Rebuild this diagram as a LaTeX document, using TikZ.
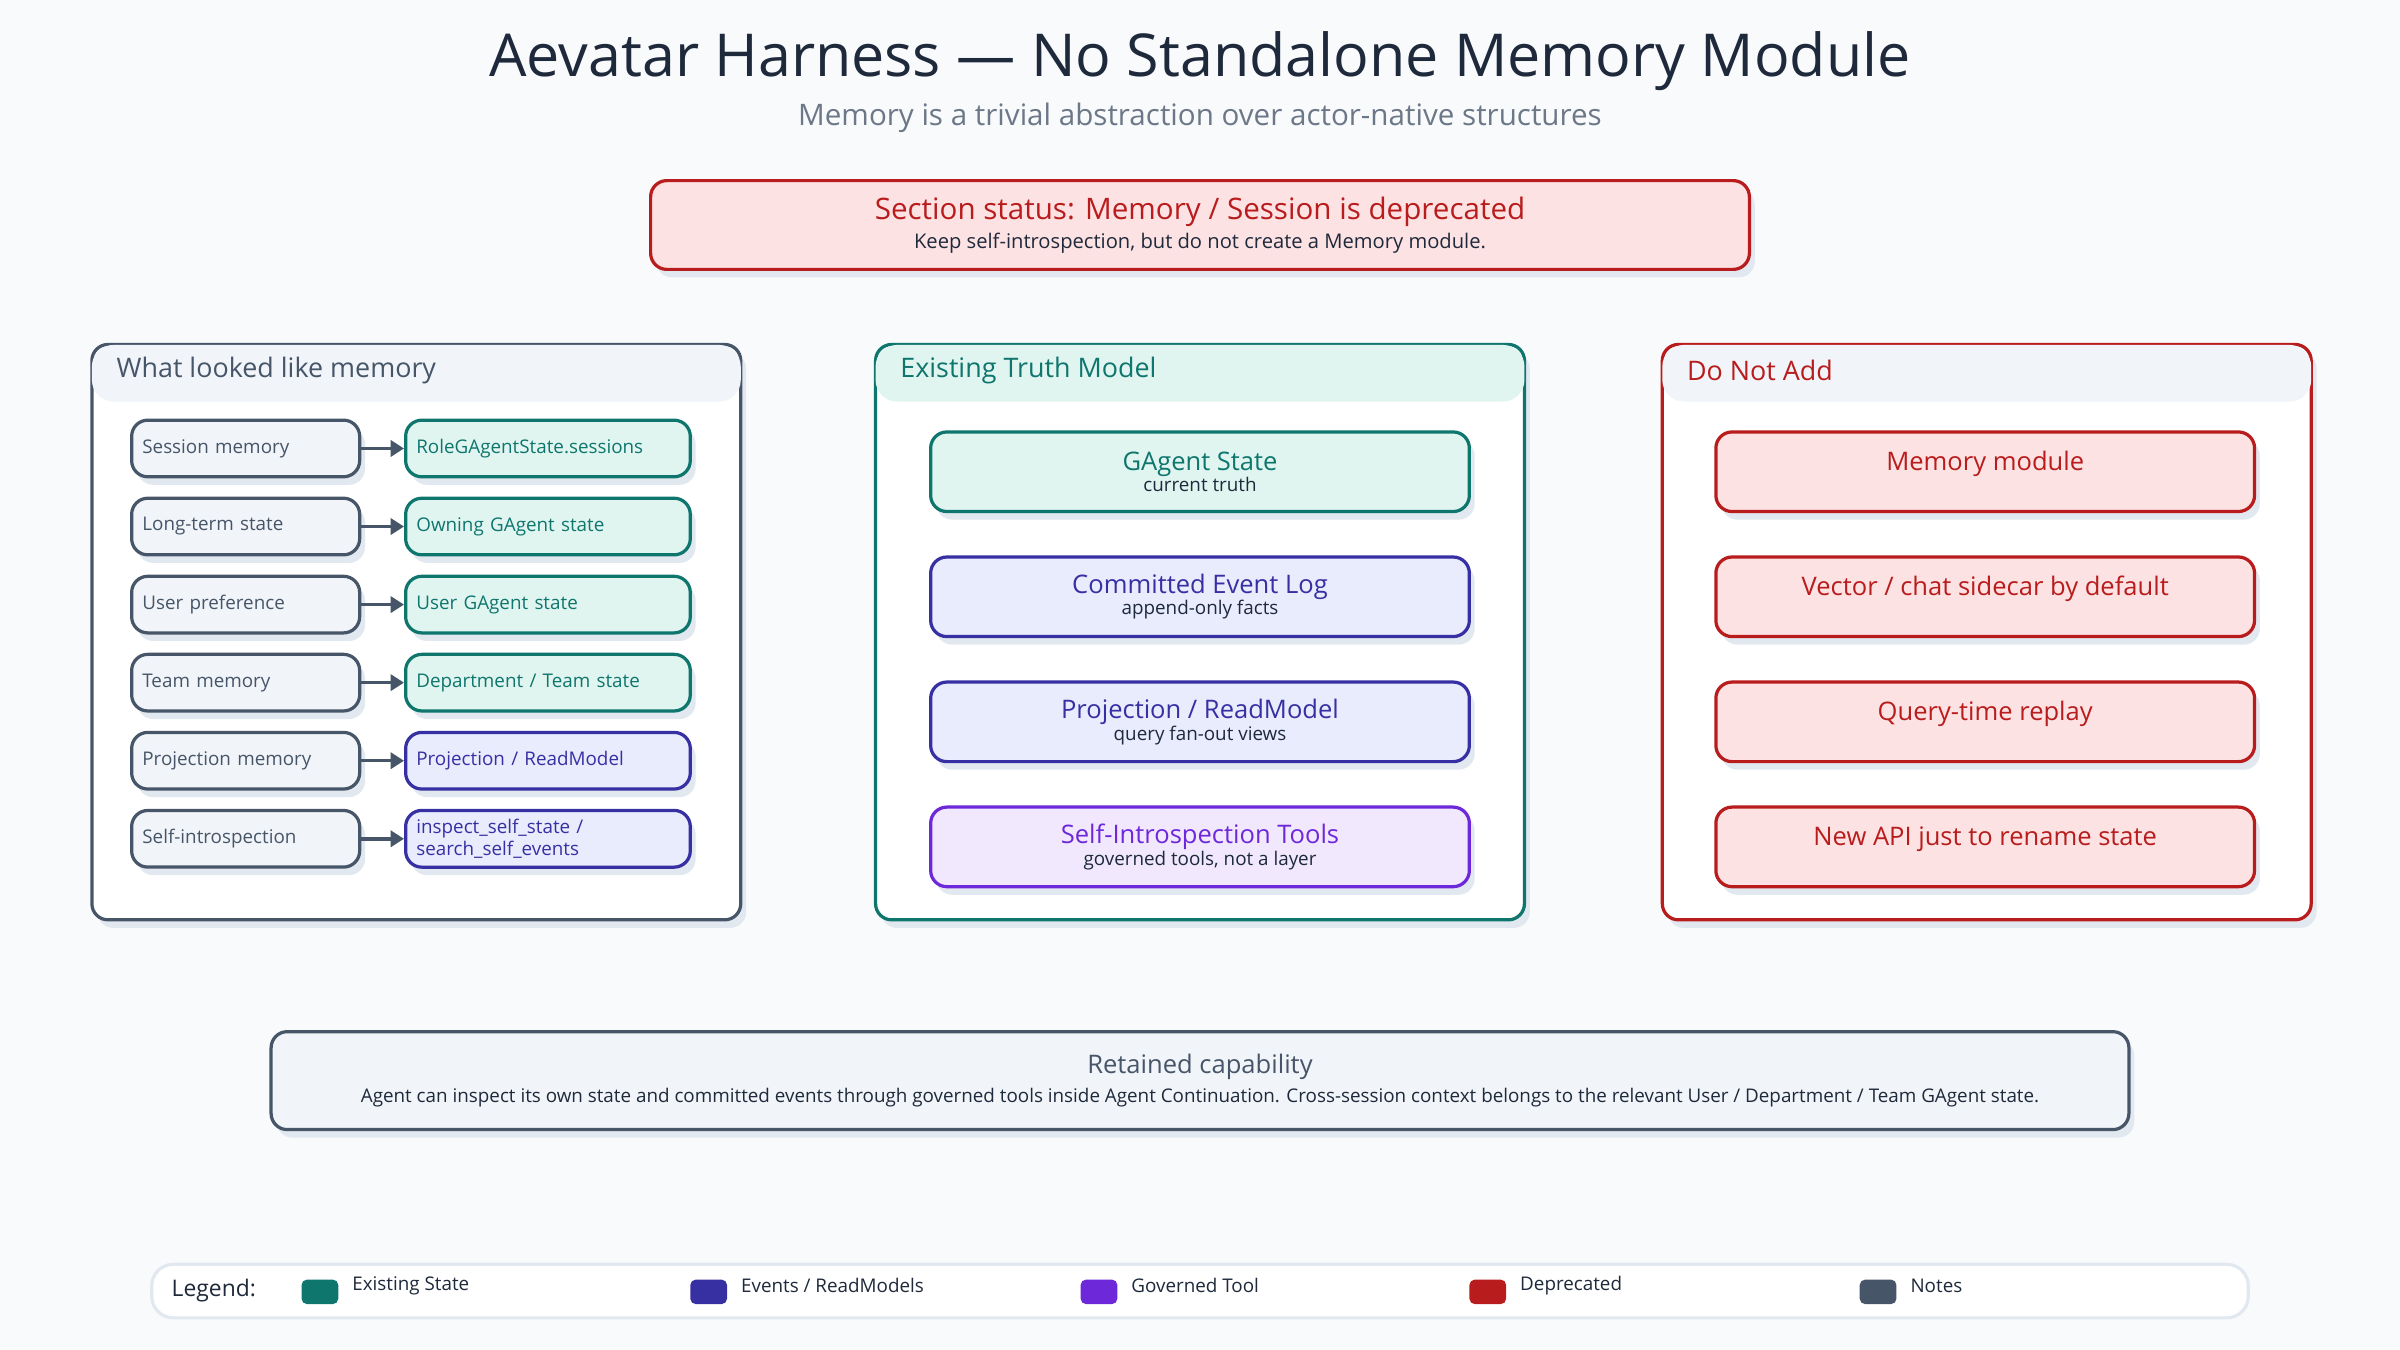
\documentclass[tikz,border=0pt]{standalone}
\usepackage{fontspec}
\setmainfont{Open Sans}
\usetikzlibrary{shadows,arrows.meta}
\definecolor{bg}{HTML}{F8FAFC}
\definecolor{slate}{HTML}{475569}
\definecolor{slatefill}{HTML}{F1F5F9}
\definecolor{teal}{HTML}{0F766E}
\definecolor{tealfill}{HTML}{E0F5F0}
\definecolor{indigo}{HTML}{3730A3}
\definecolor{indigofill}{HTML}{E8ECFD}
\definecolor{violet}{HTML}{6D28D9}
\definecolor{violetfill}{HTML}{F1E8FD}
\definecolor{crimson}{HTML}{B91C1C}
\definecolor{crimsonfill}{HTML}{FDE2E3}
\definecolor{ink}{HTML}{1E293B}
\definecolor{shade}{HTML}{E2E8F0}
\tikzset{
  box/.style={draw, rounded corners=6pt, line width=1.2pt,
    drop shadow={shadow xshift=2pt, shadow yshift=-3pt, fill=shade, opacity=1}},
  panel/.style={box, fill=white, minimum width=8.48cm, minimum height=7.52cm},
  head/.style={rounded corners=8pt, fill=#1, minimum width=8.48cm, minimum height=0.74cm},
  src/.style={box, draw=slate, fill=slatefill, text=slate, minimum width=2.98cm,
    minimum height=0.74cm, text width=2.7cm, align=left, font=\fontsize{7}{8}\selectfont},
  dst/.style={box, draw=#1, fill=#1fill, text=#1, minimum width=3.72cm,
    minimum height=0.74cm, text width=3.44cm, align=left, font=\fontsize{7}{8}\selectfont},
  truth/.style={box, draw=#1, fill=#1fill, text=#1, minimum width=7.04cm,
    minimum height=1.04cm, align=center, font=\fontsize{9.5}{10}\selectfont},
  swatch/.style={fill=#1, rounded corners=2pt, minimum width=0.48cm, minimum height=0.32cm, inner sep=0pt},
  link/.style={-{Triangle[length=5pt,width=6pt]}, line width=1.3pt, draw=slate}
}
\begin{document}
\begin{tikzpicture}[x=0.02cm, y=-0.02cm]
\fill[bg] (0,0) rectangle (1568,882);
\useasboundingbox (0,0) rectangle (1568,882);
% title
\node[font=\fontsize{22}{24}\selectfont, text=ink] (title) at (784,40) {Aevatar Harness — No Standalone Memory Module};
\node[font=\fontsize{11}{12}\selectfont, text=slate!80] (subtitle) at (784,77) {Memory is a trivial abstraction over actor-native structures};
\node[box, draw=crimson, fill=crimsonfill, minimum width=14.36cm, minimum height=1.16cm, align=center]
  (status) at (784,147) {\textcolor{crimson}{\fontsize{11}{12}\selectfont Section status: Memory / Session is deprecated}\\[-1pt]
  \textcolor{ink}{\fontsize{7.5}{9}\selectfont Keep self-introspection, but do not create a Memory module.}};
% panels
\node[panel, draw=slate] (leftp) at (272,413) {};
\node[head=slatefill, anchor=north] (lefth) at (272,225) {};
\node[anchor=west, text=slate, font=\fontsize{10}{12}\selectfont] at (70,242) {What looked like memory};
\node[panel, draw=teal] (midp) at (784,413) {};
\node[head=tealfill, anchor=north] (midh) at (784,225) {};
\node[anchor=west, text=teal, font=\fontsize{10}{12}\selectfont] at (582,242) {Existing Truth Model};
\node[panel, draw=crimson] (rightp) at (1298,413) {};
\node[head=slatefill, anchor=north] (righth) at (1298,225) {};
\node[anchor=west, text=crimson, font=\fontsize{10}{12}\selectfont] at (1096,242) {Do Not Add};
% mapping rows
\foreach \i/\a/\b/\c in {1/Session memory/RoleGAgentState.sessions/teal,
  2/Long-term state/Owning GAgent state/teal,
  3/User preference/User GAgent state/teal,
  4/Team memory/{Department / Team state}/teal,
  5/Projection memory/{Projection / ReadModel}/indigo,
  6/Self-introspection/{inspect\_self\_state /\\search\_self\_events}/indigo}{
  \node[src] (s\i) at (160.5,242+51*\i) {\a};
  \node[dst=\c] (d\i) at (358,242+51*\i) {\b};
  \draw[link] (s\i) -- (d\i);
}
% truth model
\foreach \i/\t/\s/\c in {1/GAgent State/current truth/teal,
  2/Committed Event Log/append-only facts/indigo,
  3/{Projection / ReadModel}/query fan-out views/indigo,
  4/Self-Introspection Tools/{governed tools, not a layer}/violet}{
  \node[truth=\c] (t\i) at (784,226.5+81.7*\i) {\t\\[-2pt]{\fontsize{7}{8}\selectfont\color{ink}\s}};
}
% do not add
\foreach \i/\t in {1/Memory module, 2/{Vector / chat sidecar by default}, 3/Query-time replay, 4/New API just to rename state}{
  \node[truth=crimson, text depth=8pt] (n\i) at (1297,226.5+81.7*\i) {\t};
}
% retained
\node[box, draw=slate, fill=slatefill, minimum width=24.28cm, minimum height=1.28cm, align=center]
  (retained) at (784,706) {\textcolor{slate}{\fontsize{9.5}{11}\selectfont Retained capability}\\[-1pt]
  \textcolor{ink}{\fontsize{7}{8}\selectfont Agent can inspect its own state and committed events through governed tools inside Agent Continuation. Cross-session context belongs to the relevant User / Department / Team GAgent state.}};
% legend
\node[draw=shade, line width=1.2pt, fill=white, rounded corners=8pt, minimum width=27.4cm, minimum height=0.7cm] (legend) at (784,843.5) {};
\node[anchor=west, text=ink, font=\fontsize{8.5}{10}\selectfont] (legtitle) at (106,843) {Legend:};
\foreach \x/\c/\l in {209/teal/Existing State, 463/indigo/{Events / ReadModels}, 718/violet/Governed Tool, 972/crimson/Deprecated, 1227/slate/Notes}{
  \node[swatch=\c] (sw\x) at (\x,844) {};
  \node[anchor=west, text=ink, font=\fontsize{7}{8}\selectfont] at (\x+15,840) {\l};
}
\end{tikzpicture}
\end{document}
